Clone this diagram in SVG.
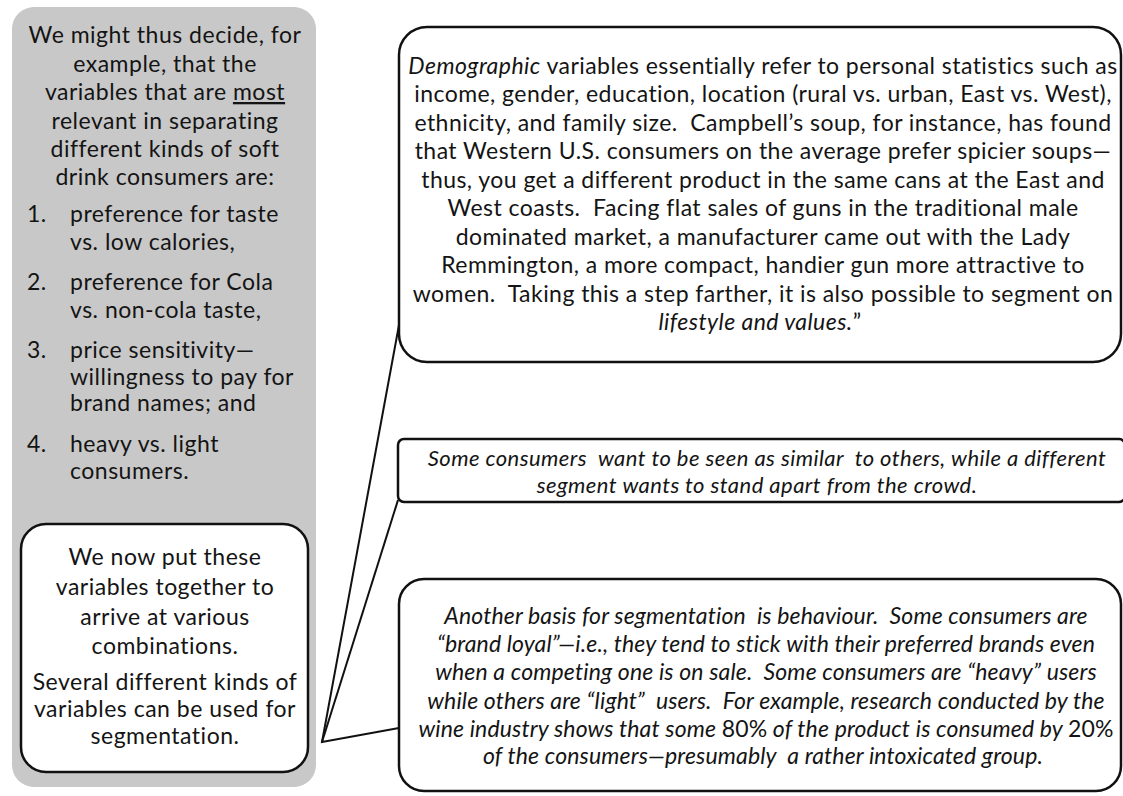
<svg xmlns="http://www.w3.org/2000/svg" width="1123" height="796" viewBox="0 0 1123 796">
  <style>
    .panel { fill: #c8c8c8; }
    .box { fill: #ffffff; stroke: #111111; stroke-width: 2.5; }
    .link { fill: none; stroke: #111111; stroke-width: 2; }
    .t { font-family: Lato, "Liberation Sans", sans-serif; fill: #141414; }
    .left { font-size: 23px; letter-spacing: 0.5px; }
    .mid { text-anchor: middle; }
    .call { font-size: 23px; letter-spacing: 0.45px; }
    .ic { font-size: 23px; letter-spacing: 0.15px; }
    .ism { font-size: 22px; letter-spacing: 0.45px; }
    .it { font-style: italic; }
  </style>
  <rect width="1123" height="796" fill="#ffffff"/>

  <!-- grey side panel with the soft-drink variables -->
  <g id="side-panel">
    <rect class="panel" x="12" y="7" width="304" height="780" rx="22" ry="22"/>
    <g class="t left mid">
      <text x="165" y="43">We might thus decide, for</text>
      <text x="165" y="72">example, that the</text>
      <text x="165" y="100">variables that are <tspan text-decoration="underline">most</tspan></text>
      <text x="165" y="129">relevant in separating</text>
      <text x="165" y="157">different kinds of soft</text>
      <text x="165" y="185">drink consumers are:</text>
    </g>
    <g class="t left">
      <text x="27" y="222">1.</text>
      <text x="70" y="222">preference for taste</text>
      <text x="70" y="250">vs. low calories,</text>
      <text x="27" y="290">2.</text>
      <text x="70" y="290">preference for Cola</text>
      <text x="70" y="318">vs. non-cola taste,</text>
      <text x="27" y="358">3.</text>
      <text x="70" y="358">price sensitivity—</text>
      <text x="70" y="385">willingness to pay for</text>
      <text x="70" y="411">brand names; and</text>
      <text x="27" y="452">4.</text>
      <text x="70" y="452">heavy vs. light</text>
      <text x="70" y="479">consumers.</text>
    </g>
  </g>

  <!-- summary box inside the panel -->
  <g id="summary">
    <rect class="box" x="21" y="524" width="287" height="248" rx="25" ry="25"/>
    <g class="t left mid">
      <text x="165" y="565">We now put these</text>
      <text x="165" y="595">variables together to</text>
      <text x="165" y="625">arrive at various</text>
      <text x="165" y="654">combinations.</text>
      <text x="165" y="690">Several different kinds of</text>
      <text x="165" y="717">variables can be used for</text>
      <text x="165" y="744">segmentation.</text>
    </g>
  </g>

  <!-- callout tails from the summary box -->
  <g id="connectors">
    <polyline class="link" points="399,325 322,742 399,728"/>
    <line class="link" x1="398" y1="500" x2="322" y2="742"/>
  </g>

  <g id="demographic">
    <rect class="box" x="399" y="27" width="722" height="335" rx="28" ry="28"/>
    <g class="t call mid">
      <text x="763" y="74"><tspan class="it">Demographic</tspan> variables essentially refer to personal statistics such as</text>
      <text x="763" y="102">income, gender, education, location (rural vs. urban, East vs. West),</text>
      <text x="763" y="131">ethnicity, and family size.&#160; Campbell’s soup, for instance, has found</text>
      <text x="763" y="159">that Western U.S. consumers on the average prefer spicier soups—</text>
      <text x="763" y="188">thus, you get a different product in the same cans at the East and</text>
      <text x="763" y="216">West coasts.&#160; Facing flat sales of guns in the traditional male</text>
      <text x="763" y="245">dominated market, a manufacturer came out with the Lady</text>
      <text x="763" y="273">Remmington, a more compact, handier gun more attractive to</text>
      <text x="763" y="302">women.&#160; Taking this a step farther, it is also possible to segment on</text>
      <text x="760" y="330"><tspan class="it">lifestyle and values.</tspan>”</text>
    </g>
  </g>

  <g id="lifestyle">
    <rect class="box" x="398" y="439" width="727" height="63" rx="6" ry="6"/>
    <g class="t ism mid it">
      <text x="767" y="466">Some consumers&#160; want to be seen as similar&#160; to others, while a different</text>
      <text x="757" y="493">segment wants to stand apart from the crowd.</text>
    </g>
  </g>

  <g id="behaviour">
    <rect class="box" x="399" y="579" width="722" height="212" rx="25" ry="25"/>
    <g class="t ic mid">
      <text class="it" x="766" y="624">Another basis for segmentation&#160; is behaviour.&#160; Some consumers are</text>
      <text class="it" x="766" y="652">“brand loyal”—i.e., they tend to stick with their preferred brands even</text>
      <text class="it" x="766" y="680">when a competing one is on sale.&#160; Some consumers are “heavy” users</text>
      <text class="it" x="766" y="709">while others are “light”&#160; users.&#160; For example, research conducted by the</text>
      <text x="766" y="737"><tspan class="it">wine industry shows that some </tspan>80%<tspan class="it"> of the product is consumed by </tspan>20%</text>
      <text class="it" x="763" y="764">of the consumers—presumably&#160; a rather intoxicated group.</text>
    </g>
  </g>
</svg>
